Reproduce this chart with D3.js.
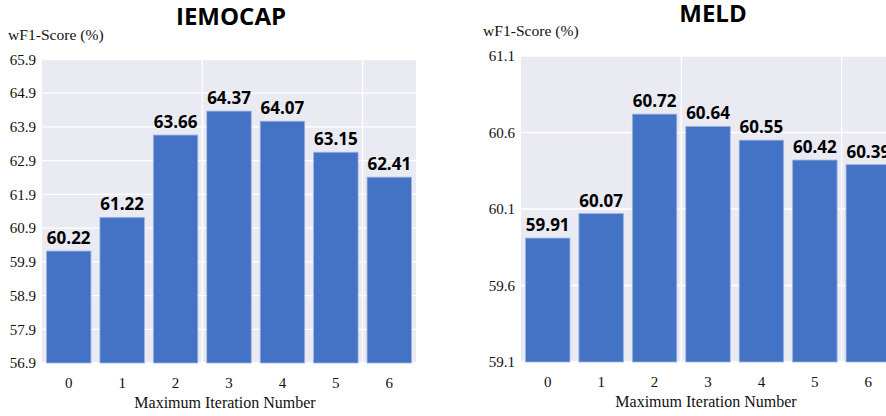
<!DOCTYPE html>
<html lang="en">
<head>
<meta charset="utf-8">
<title>Maximum Iteration Number</title>
<script src="https://cdnjs.cloudflare.com/ajax/libs/d3/7.8.5/d3.min.js"></script>
<style>
  body { margin: 0; background: #fff; }
  svg { display: block; }
  .tick-lbl { font-family: "Liberation Serif", "DejaVu Serif", serif; font-size: 15px; fill: #111; }
  .axis-title { font-family: "Liberation Serif", serif; font-size: 16px; fill: #111; }
  .y-title { font-family: "Liberation Serif", serif; font-size: 15.6px; fill: #111; }
  .title { font-family: "Open Sans", sans-serif; font-weight: bold; font-size: 24px; fill: #000; }
  .val { font-family: "Open Sans", sans-serif; font-weight: bold; font-size: 17px; fill: #000; }
</style>
</head>
<body>
<div id="chart"></div>
<script>
// categories (x axis)
const iterations = ["0", "1", "2", "3", "4", "5", "6"];

// IEMOCAP
const iemocapScores = [60.22, 61.22, 63.66, 64.37, 64.07, 63.15, 62.41];
const iemocapTicks = [56.9, 57.9, 58.9, 59.9, 60.9, 61.9, 62.9, 63.9, 64.9, 65.9];

// MELD
const meldScores = [59.91, 60.07, 60.72, 60.64, 60.55, 60.42, 60.39];
const meldTicks = [59.1, 59.6, 60.1, 60.6, 61.1];

// vertical grid lines sit between categories (index units)
const vGrid = [2.5, 5.5];

const W = 886, H = 416;
const svg = d3.select("#chart").append("svg")
  .attr("width", W)
  .attr("height", H);

function drawPanel(opt) {
  const g = svg.append("g");
  const left = opt.left, right = opt.left + 374, top = opt.top, bottom = opt.bottom;

  const x = d3.scaleBand()
    .domain(iterations)
    .range([left, right])
    .paddingInner(0.168)
    .paddingOuter(0.084);
  const xi = d3.scaleLinear().domain([-0.5, 6.5]).range([left, right]);
  const y = d3.scaleLinear()
    .domain([opt.ticks[0], opt.ticks[opt.ticks.length - 1]])
    .range([bottom, top]);

  // background
  g.append("rect")
    .attr("x", left).attr("y", top)
    .attr("width", right - left).attr("height", bottom - top)
    .attr("fill", "#eaeaf2");

  // horizontal grid
  g.selectAll(".hg").data(opt.ticks).enter().append("line")
    .attr("x1", left).attr("x2", right)
    .attr("y1", d => y(d)).attr("y2", d => y(d))
    .attr("stroke", "#fff").attr("stroke-width", 1.3);

  // vertical grid
  g.selectAll(".vg").data(vGrid).enter().append("line")
    .attr("x1", d => xi(d)).attr("x2", d => xi(d))
    .attr("y1", top).attr("y2", bottom)
    .attr("stroke", "#fff").attr("stroke-width", 1.3);

  // bars
  g.selectAll(".bar").data(opt.scores).enter().append("rect")
    .attr("x", (d, i) => x(iterations[i]))
    .attr("y", d => y(d))
    .attr("width", x.bandwidth())
    .attr("height", d => bottom - y(d))
    .attr("fill", "#4472c4")
    .attr("stroke", "#9db3e0")
    .attr("stroke-width", 0.8);

  // value labels
  g.selectAll(".val").data(opt.scores).enter().append("text")
    .attr("class", "val")
    .attr("x", (d, i) => x(iterations[i]) + x.bandwidth() / 2)
    .attr("y", d => y(d) - 7)
    .attr("text-anchor", "middle")
    .text(d => d.toFixed(2));

  // y tick labels
  g.selectAll(".yl").data(opt.ticks).enter().append("text")
    .attr("class", "tick-lbl")
    .attr("x", left - 6)
    .attr("y", d => y(d))
    .attr("dy", "0.35em")
    .attr("text-anchor", "end")
    .text(d => d.toFixed(1));

  // x tick labels
  g.selectAll(".xl").data(iterations).enter().append("text")
    .attr("class", "tick-lbl")
    .attr("x", d => x(d) + x.bandwidth() / 2)
    .attr("y", bottom + 25)
    .attr("text-anchor", "middle")
    .text(d => d);

  // axis titles
  g.append("text").attr("class", "y-title")
    .attr("x", opt.yTitleX).attr("y", opt.yTitleY)
    .text("wF1-Score (%)");
  g.append("text").attr("class", "axis-title")
    .attr("x", opt.xTitleX).attr("y", bottom + 45)
    .attr("text-anchor", "middle")
    .text("Maximum Iteration Number");

  // title
  g.append("text").attr("class", "title")
    .attr("x", opt.titleX).attr("y", opt.titleY)
    .attr("text-anchor", "middle")
    .text(opt.title);
}

drawPanel({
  title: "IEMOCAP", scores: iemocapScores, ticks: iemocapTicks,
  left: 42, top: 59.5, bottom: 363,
  titleX: 231, titleY: 25, yTitleX: 8, yTitleY: 40, xTitleX: 225
});
drawPanel({
  title: "MELD", scores: meldScores, ticks: meldTicks,
  left: 521, top: 56, bottom: 362,
  titleX: 713, titleY: 22, yTitleX: 483, yTitleY: 36, xTitleX: 706
});
</script>
</body>
</html>
